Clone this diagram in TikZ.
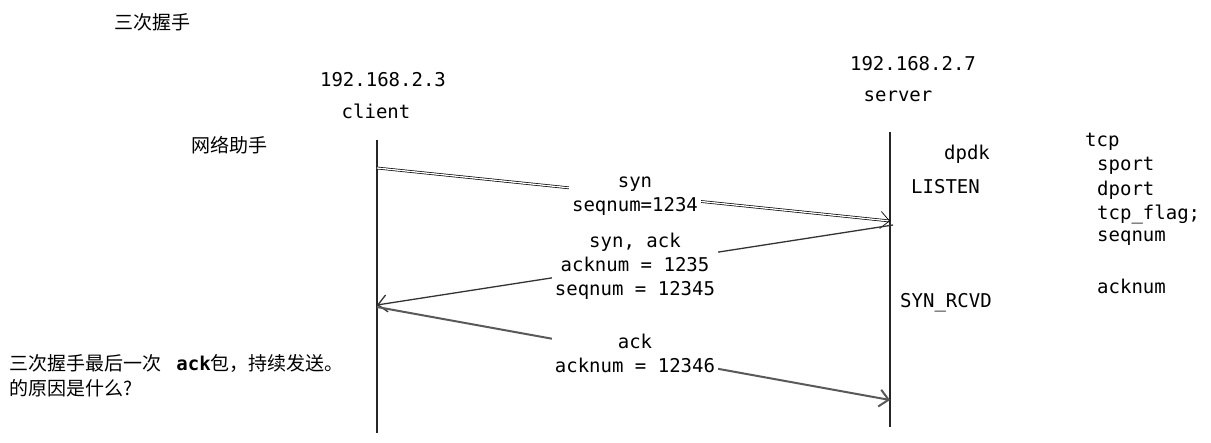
\documentclass[tikz,border=0pt]{standalone}
\usepackage{fontspec}
\setmonofont{DejaVu Sans Mono}
\newfontfamily\cjk{Noto Sans CJK SC}
\usetikzlibrary{arrows.meta}

\begin{document}
\begin{tikzpicture}[x=1pt,y=-1pt,
        mono/.style={font=\ttfamily\fontsize{19}{24}\selectfont,inner sep=1pt},
        cn/.style={font=\cjk\fontsize{19}{25}\selectfont,inner sep=1pt},
        msglabel/.style={mono,fill=white,align=center,inner sep=3pt},
        lifeline/.style={draw=black!85,line width=1.4pt},
        msg/.style={-{Straight Barb[length=9pt,width=17pt]},line width=1.3pt,draw=black!80}]
    % Frame
    \useasboundingbox (0,0) rectangle (1211,443);

    % Headings
    \node[cn] (title) at (152,22) {三次握手};
    \node[mono] (cip) at (383,80) {192.168.2.3};
    \node[mono] (cname) at (376,111) {client};
    \node[mono] (sip) at (913,64) {192.168.2.7};
    \node[mono] (sname) at (898,96) {server};
    \node[cn] (helper) at (229,145) {网络助手};

    % Lifelines
    \coordinate (ctop) at (377,140);
    \coordinate (cbot) at (377,433);
    \coordinate (stop) at (890,132);
    \coordinate (sbot) at (890,427);
    \draw[lifeline] (ctop) -- (cbot);
    \draw[lifeline] (stop) -- (sbot);

    % Server states
    \node[mono] (dpdk) at (967,154) {dpdk};
    \node[mono,anchor=west] (listen) at (910,187) {LISTEN};
    \node[mono,anchor=west] (rcvd) at (899,303) {SYN\_RCVD};

    % Header fields
    \node[mono,anchor=west] (tcp) at (1084,142) {tcp};
    \foreach \name/\txt/\y in {sport/sport/166,dport/dport/190,flag/tcp\_flag;/214,
                               seq/seqnum/238,ack/acknum/286}
        \node[mono,anchor=west] (\name) at (1096,\y) {\txt};

    % Messages
    \coordinate (c1) at (377,168);
    \coordinate (s1) at (890,221);
    \coordinate (s2) at (893,225);
    \coordinate (c2) at (377,305);
    \coordinate (c3) at (377,307);
    \coordinate (s3) at (890,400);
    \draw[msg,draw=black,line width=0.7pt,double=white,double distance=1.3pt] (c1) -- (s1);
    \draw[msg] (s2) -- (c2);
    \draw[msg,draw=black!65,line width=2pt] (c3) -- (s3);
    \node[msglabel] (syn) at (635,196) {syn\\seqnum=1234};
    \node[msglabel] (synack) at (635,266) {syn, ack\\acknum = 1235\\seqnum = 12345};
    \node[msglabel] (lastack) at (635,353) {ack\\acknum = 12346};

    % Question
    \node[cn,anchor=north west,align=left] (question) at (8,353)
        {三次握手最后一次\hspace{0.8em}{\ttfamily\bfseries ack}包，持续发送。\\的原因是什么?};
\end{tikzpicture}
\end{document}
